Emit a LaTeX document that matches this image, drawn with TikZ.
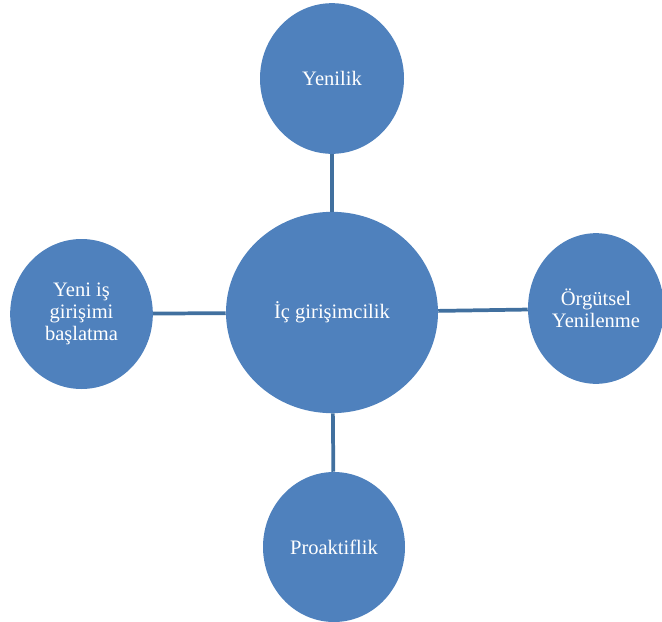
\documentclass[tikz,border=0pt]{standalone}
\usepackage{fontspec}
\setmainfont{Liberation Serif}
\usetikzlibrary{shapes.geometric}
\definecolor{bubblefill}{HTML}{4F81BD}
\definecolor{linkcol}{HTML}{41709F}
\begin{document}
\begin{tikzpicture}[x = 0.75pt, y = -0.75pt,
    bubble/.style = {ellipse, fill = bubblefill, inner sep = 0pt, text = white,
                     align = center, font = \fontsize{15.4}{16.3}\selectfont},
    link/.style = {draw = linkcol, line width = 2.8pt}]
    \useasboundingbox (0, 0) rectangle (662, 622);
    \node[bubble, minimum width = 159pt, minimum height = 151pt] (ic) at (332, 312.5) {İç girişimcilik};
    \node[bubble, minimum width = 108pt, minimum height = 113pt] (yenilik) at (332, 78.5) {Yenilik};
    \node[bubble, minimum width = 107pt, minimum height = 112.5pt] (yeniis) at (81.5, 314) {Yeni iş\\girişimi\\başlatma};
    \node[bubble, minimum width = 102pt, minimum height = 113pt] (orgutsel) at (596, 308.5) {Örgütsel\\Yenilenme};
    \node[bubble, minimum width = 106.5pt, minimum height = 112.5pt] (proaktif) at (334, 547) {Proaktiflik};

    \draw[link] (yenilik) -- (ic);
    \draw[link] (yeniis) -- (ic);
    \draw[link] (ic) -- (orgutsel);
    \draw[link] (ic) -- (proaktif);

  \end{tikzpicture}
\end{document}
